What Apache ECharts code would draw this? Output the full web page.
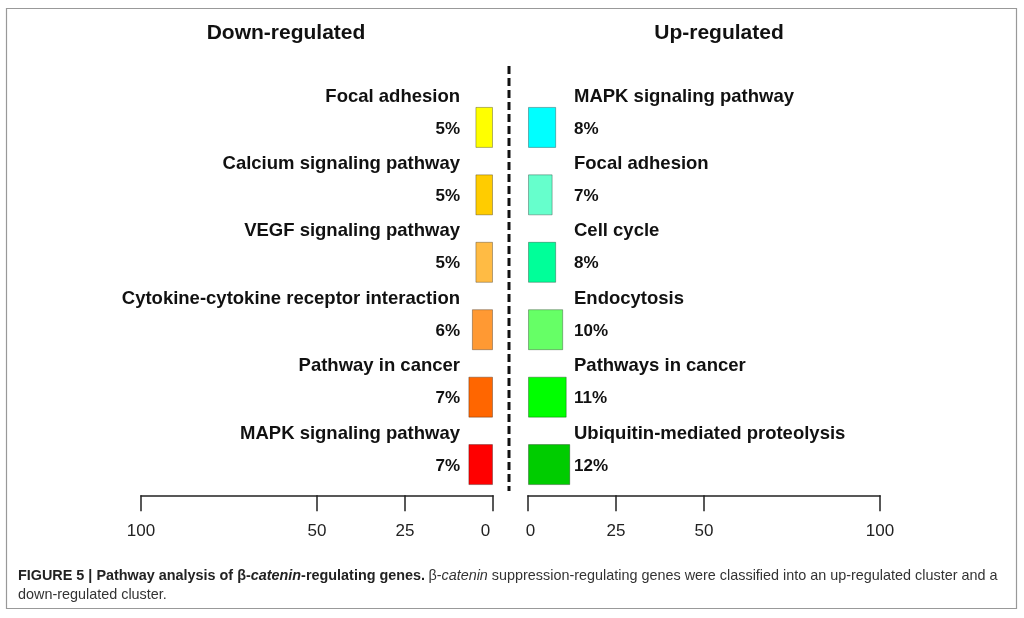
<!DOCTYPE html>
<html>
<head>
<meta charset="utf-8">
<script src="https://cdn.jsdelivr.net/npm/echarts@6/dist/echarts.min.js"></script>
<style>
html,body{margin:0;padding:0;background:#fff;}
#chart{width:1024px;height:618px;}
</style>
</head>
<body>
<div id="chart"></div>
<script>
// ---- data ----
const downNames = ['Focal adhesion', 'Calcium signaling pathway', 'VEGF signaling pathway',
  'Cytokine-cytokine receptor interaction', 'Pathway in cancer', 'MAPK signaling pathway'];
const downValues = [5, 5, 5, 6, 7, 7];
const upNames = ['MAPK signaling pathway', 'Focal adhesion', 'Cell cycle', 'Endocytosis',
  'Pathways in cancer', 'Ubiquitin-mediated proteolysis'];
const upValues = [8, 7, 8, 10, 11, 12];
const axisTicks = [0, 25, 50, 100];

// ---- styles ----
const downColors = ['#FFFF00', '#FFCC00', '#FFBB44', '#FF9933', '#FF6600', '#FF0000'];
const upColors = ['#00FFFF', '#66FFCC', '#00FF99', '#66FF66', '#00FF00', '#00CC00'];
const FONT = '"Liberation Sans", Arial, sans-serif';

const chart = echarts.init(document.getElementById('chart'));

function labelRich() {
  return {
    n: { fontFamily: FONT, fontSize: 18.5, fontWeight: 'bold', color: '#111', lineHeight: 32.5 },
    p: { fontFamily: FONT, fontSize: 17, fontWeight: 'bold', color: '#111', lineHeight: 32.5 }
  };
}

function xAxisCfg(gridIndex, inverse) {
  return {
    type: 'value', gridIndex: gridIndex, min: 0, max: 100, inverse: inverse, offset: -3,
    axisLine: { show: true, lineStyle: { color: '#222', width: 1.5 } },
    axisTick: { show: true, customValues: axisTicks, length: 16, lineStyle: { color: '#222', width: 1.5 } },
    axisLabel: {
      show: true, customValues: axisTicks, margin: 28, fontFamily: FONT, fontSize: 17, color: '#222',
      formatter: v => v === 0 ? (inverse ? '{zl|0}' : '{zr|0}') : String(v),
      rich: {
        zl: { fontFamily: FONT, fontSize: 17, color: '#222', padding: [0, 15, 0, 0] },
        zr: { fontFamily: FONT, fontSize: 17, color: '#222', padding: [0, 0, 0, 5] }
      }
    },
    splitLine: { show: false }
  };
}

const option = {
  animation: false,
  backgroundColor: '#fff',
  title: [
    { text: 'Down-regulated', left: 281, top: 18, textAlign: 'center',
      textStyle: { fontFamily: FONT, fontSize: 21, fontWeight: 'bold', color: '#111' } },
    { text: 'Up-regulated', left: 714, top: 18, textAlign: 'center',
      textStyle: { fontFamily: FONT, fontSize: 21, fontWeight: 'bold', color: '#111' } }
  ],
  grid: [
    { left: 141, right: 531, top: 93.7, bottom: 119.7 },
    { left: 528, right: 144, top: 93.7, bottom: 119.7 }
  ],
  xAxis: [xAxisCfg(0, true), xAxisCfg(1, false)],
  yAxis: [
    {
      type: 'category', gridIndex: 0, inverse: true, data: downNames, position: 'right',
      axisLine: { show: false }, axisTick: { show: false },
      axisLabel: {
        inside: true, margin: 33, padding: [0, 0, 29.5, 0],
        formatter: (v, i) => '{n|' + downNames[i] + '}\n{p|' + downValues[i] + '%}',
        rich: labelRich()
      }
    },
    {
      type: 'category', gridIndex: 1, inverse: true, data: upNames, position: 'left',
      axisLine: { show: false }, axisTick: { show: false },
      axisLabel: {
        inside: true, margin: 46, padding: [0, 0, 29.5, 0],
        formatter: (v, i) => '{n|' + upNames[i] + '}\n{p|' + upValues[i] + '%}',
        rich: labelRich()
      }
    }
  ],
  series: [
    {
      type: 'bar', xAxisIndex: 0, yAxisIndex: 0, data: downValues, barWidth: 41,
      itemStyle: { color: p => downColors[p.dataIndex], borderColor: 'rgba(0,0,0,0.3)', borderWidth: 1 }
    },
    {
      type: 'bar', xAxisIndex: 1, yAxisIndex: 1, data: upValues, barWidth: 41,
      itemStyle: { color: p => upColors[p.dataIndex], borderColor: 'rgba(0,0,0,0.3)', borderWidth: 1 }
    }
  ],
  graphic: [
    { type: 'rect', shape: { x: 6.5, y: 8.5, width: 1010, height: 600 },
      style: { fill: 'none', stroke: '#999', lineWidth: 1.2 }, silent: true },
    { type: 'line', shape: { x1: 509, y1: 66, x2: 509, y2: 491 },
      style: { stroke: '#111', lineWidth: 3, lineDash: [8, 4] }, silent: true },
    { type: 'text', left: 18, top: 569,
      style: {
        text: '{b|FIGURE 5 | Pathway analysis of β-}{bi|catenin}{b|-regulating genes.} {r|β-}{i|catenin}{r| suppression-regulating genes were classified into an up-regulated cluster and a}',
        rich: {
          b: { fontFamily: FONT, fontSize: 14.4, fontWeight: 'bold', fill: '#222' },
          bi: { fontFamily: FONT, fontSize: 14.4, fontWeight: 'bold', fontStyle: 'italic', fill: '#222' },
          r: { fontFamily: FONT, fontSize: 14.4, fill: '#333' },
          i: { fontFamily: FONT, fontSize: 14.4, fontStyle: 'italic', fill: '#333' }
        }
      } },
    { type: 'text', left: 18, top: 588,
      style: { text: 'down-regulated cluster.', font: '14.4px ' + FONT, fill: '#333' } }
  ]
};
chart.setOption(option);
</script>
</body>
</html>
